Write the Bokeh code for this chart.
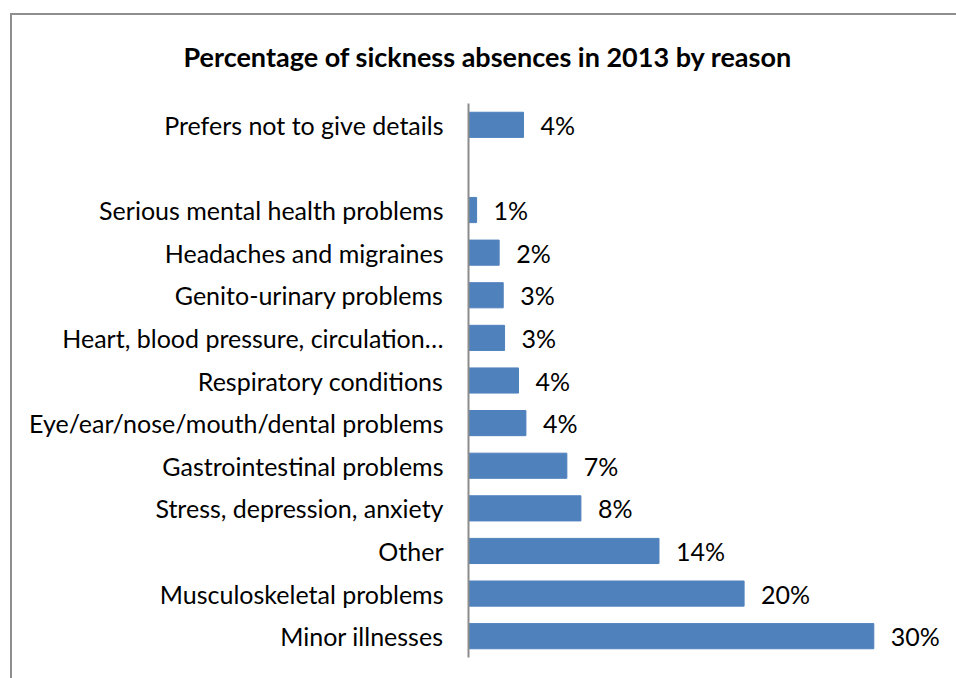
from bokeh.plotting import figure
from bokeh.models import ColumnDataSource, FactorRange, Range1d, InlineStyleSheet
from bokeh.core.properties import value
from bokeh.embed import file_html
from bokeh.resources import INLINE

# ---- data (top to bottom as in the chart) ----
categories = [
    "Prefers not to give details",
    "Serious mental health problems",
    "Headaches and migraines",
    "Genito-urinary problems",
    "Heart, blood pressure, circulation…",
    "Respiratory conditions",
    "Eye/ear/nose/mouth/dental problems",
    "Gastrointestinal problems",
    "Stress, depression, anxiety",
    "Other",
    "Musculoskeletal problems",
    "Minor illnesses",
]
values = [4.07, 0.6, 2.27, 2.57, 2.67, 3.7, 4.25, 7.28, 8.32, 14.1, 20.4, 30.0]
value_labels = ["4%", "1%", "2%", "3%", "3%", "4%", "4%", "7%", "8%", "14%", "20%", "30%"]
title_text = "Percentage of sickness absences in 2013 by reason"

FONT = "Lato"
BLANK = " "
# factor order bottom-to-top, with an empty slot below the first category
factors = list(reversed(categories[1:])) + [BLANK, categories[0]]

src = ColumnDataSource(dict(cat=categories, val=values, lab=value_labels))

W, H = 956, 678
left, right_b, top, bottom = 468, 15, 103, 21
frame_w = W - left - right_b
x_max = frame_w / 13.51

p = figure(width=W, height=H, y_range=FactorRange(*factors, range_padding=0),
           x_range=Range1d(0, x_max), output_backend="svg", toolbar_location=None,
           min_border_left=left, min_border_right=right_b,
           min_border_top=top, min_border_bottom=bottom)
p.outline_line_color = None
p.grid.visible = False
p.xaxis.visible = False
p.background_fill_color = "white"
p.border_fill_color = "white"

p.hbar(y="cat", right="val", left=0, height=0.59, source=src,
       fill_color="#4F81BD", line_color="#4F81BD")

p.text(x="val", y="cat", text="lab", source=src, x_offset=17,
       text_baseline="middle", text_align="left",
       text_font=value(FONT), text_font_size="25px", text_color="black")

ax = p.yaxis[0]
ax.axis_line_color = "#8C8C8C"
ax.axis_line_width = 2
ax.major_tick_line_color = None
ax.minor_tick_line_color = None
ax.major_tick_out = 0
ax.major_tick_in = 0
ax.major_label_standoff = 25
ax.major_label_text_font = FONT
ax.major_label_text_font_size = "25px"
ax.major_label_text_color = "black"

# title
p.title.text = title_text
p.title.align = "left"
p.title.offset = 183 - left
p.title.standoff = 61
p.title.text_font = FONT
p.title.text_font_size = "27px"
p.title.text_font_style = "bold"
p.title.text_color = "black"

# chart-area border (drawn around the whole chart area, partly outside the window)
p.stylesheets = [InlineStyleSheet(css="""
:host { position: relative; }
:host::after {
  content: ""; position: absolute; left: 10px; top: 13px; right: -20px; bottom: -20px;
  border: 2px solid #8E8E8E; pointer-events: none;
}
""")]

open("out.html", "w").write(file_html(p, INLINE))
